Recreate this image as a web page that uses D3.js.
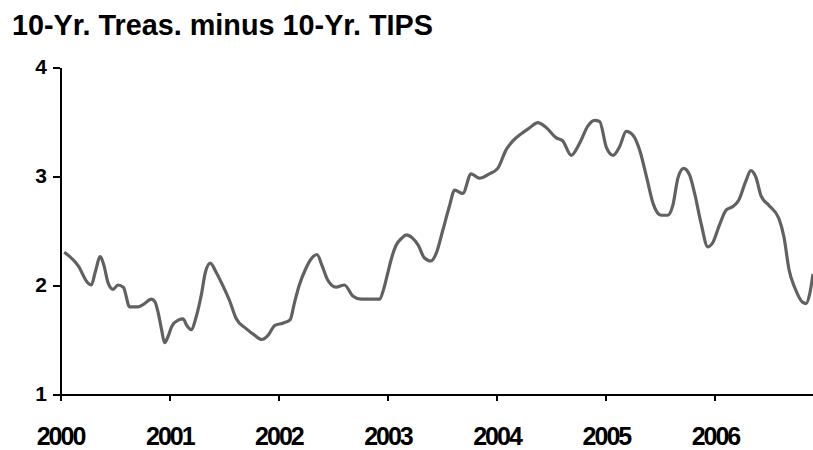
<!DOCTYPE html>
<html>
<head>
<meta charset="utf-8">
<script src="https://cdn.jsdelivr.net/npm/d3@7"></script>
<style>
  body { margin: 0; background: #fff; }
  svg { display: block; }
  .axis path, .axis line { stroke: #000; stroke-width: 2px; shape-rendering: crispEdges; }
  .axis text { font-family: "Liberation Sans", Arial, sans-serif; font-weight: bold; fill: #000; }
</style>
</head>
<body>
<script>
"use strict";

// data
var title = "10-Yr. Treas. minus 10-Yr. TIPS";
var yearTicks = ["2000", "2001", "2002", "2003", "2004", "2005", "2006"];
var valueTicks = [1, 2, 3, 4];
var dates = [
    "2000-01-15", "2000-02-03", "2000-03-01", "2000-04-03", "2000-04-15", "2000-04-28",
    "2000-05-15", "2000-05-27", "2000-06-10", "2000-06-27", "2000-07-13", "2000-07-31",
    "2000-08-21", "2000-09-18", "2000-10-05", "2000-11-02", "2000-11-13", "2000-11-25",
    "2000-12-06", "2000-12-16", "2000-12-28", "2001-01-09", "2001-02-01", "2001-02-16",
    "2001-02-28", "2001-03-15", "2001-04-01", "2001-04-18", "2001-05-01", "2001-05-18",
    "2001-06-06", "2001-06-28", "2001-07-21", "2001-08-13", "2001-09-15", "2001-10-13",
    "2001-11-06", "2001-11-28", "2001-12-20", "2002-01-16", "2002-02-09", "2002-02-24",
    "2002-03-12", "2002-04-01", "2002-04-21", "2002-05-10", "2002-05-28", "2002-06-14",
    "2002-07-13", "2002-08-10", "2002-09-07", "2002-10-05", "2002-12-06", "2002-12-19",
    "2003-01-02", "2003-01-12", "2003-01-29", "2003-02-18", "2003-03-05", "2003-03-26",
    "2003-04-15", "2003-05-04", "2003-05-27", "2003-06-13", "2003-07-05", "2003-07-27",
    "2003-08-14", "2003-09-10", "2003-10-08", "2003-11-05", "2003-12-08", "2004-01-05",
    "2004-02-02", "2004-02-24", "2004-03-25", "2004-04-20", "2004-05-18", "2004-06-13",
    "2004-07-19", "2004-08-10", "2004-09-07", "2004-10-05", "2004-11-02", "2004-11-24",
    "2004-12-11", "2005-01-03", "2005-01-25", "2005-02-16", "2005-03-10", "2005-04-03",
    "2005-04-25", "2005-05-18", "2005-06-09", "2005-07-05", "2005-07-27", "2005-08-13",
    "2005-08-30", "2005-09-18", "2005-10-08", "2005-10-25", "2005-11-16", "2005-12-08",
    "2005-12-25", "2006-01-16", "2006-02-08", "2006-03-02", "2006-03-22", "2006-04-14",
    "2006-05-01", "2006-05-18", "2006-06-04", "2006-07-01", "2006-08-03", "2006-08-20",
    "2006-09-06", "2006-09-26", "2006-10-22", "2006-11-02", "2006-11-15", "2006-11-25"
];
var values = [
    2.30, 2.26, 2.18, 2.02, 2.00, 2.12,
    2.26, 2.18, 2.02, 1.96, 2.00, 1.98,
    1.80, 1.80, 1.82, 1.87, 1.85, 1.74,
    1.59, 1.47, 1.53, 1.62, 1.68, 1.69,
    1.63, 1.59, 1.71, 1.91, 2.11, 2.20,
    2.12, 2.00, 1.86, 1.69, 1.60, 1.54,
    1.50, 1.54, 1.63, 1.65, 1.68, 1.84,
    2.00, 2.14, 2.24, 2.28, 2.17, 2.05,
    1.98, 2.00, 1.90, 1.87, 1.87, 1.96,
    2.11, 2.22, 2.36, 2.43, 2.46, 2.43,
    2.36, 2.25, 2.22, 2.29, 2.50, 2.72,
    2.87, 2.84, 3.02, 2.98, 3.02, 3.07,
    3.24, 3.32, 3.39, 3.44, 3.49, 3.45,
    3.35, 3.32, 3.19, 3.30, 3.46, 3.51,
    3.50, 3.26, 3.19, 3.27, 3.41, 3.37,
    3.23, 2.98, 2.74, 2.64, 2.64, 2.73,
    2.98, 3.07, 3.01, 2.84, 2.56, 2.35,
    2.39, 2.55, 2.69, 2.72, 2.78, 2.95,
    3.05, 2.99, 2.82, 2.73, 2.61, 2.44,
    2.14, 1.97, 1.84, 1.83, 1.93, 2.10
];

var width = 813, height = 450;
var parseDate = d3.timeParse("%Y-%m-%d");
var parseYear = d3.timeParse("%Y");

var series = dates.map(function(d, i) {
    return { date: parseDate(d), value: values[i] };
});

var svg = d3.select("body").append("svg")
    .attr("width", width)
    .attr("height", height);

svg.append("rect")
    .attr("width", width)
    .attr("height", height)
    .attr("fill", "#fff");

// x: one year is ~109px, 2007 falls just past the right edge
var x = d3.scaleTime()
    .domain([parseYear("2000"), parseYear("2007")])
    .range([60, 824]);
var y = d3.scaleLinear()
    .domain([1, 4])
    .range([394, 67]);

var xAxis = d3.axisBottom(x)
    .tickValues(yearTicks.map(parseYear))
    .tickFormat(d3.timeFormat("%Y"))
    .tickSize(7)
    .tickSizeOuter(0)
    .tickPadding(26);

var yAxis = d3.axisLeft(y)
    .tickValues(valueTicks)
    .tickFormat(d3.format("d"))
    .tickSize(7)
    .tickSizeOuter(0)
    .tickPadding(6);

var gx = svg.append("g")
    .attr("class", "axis x")
    .attr("transform", "translate(0," + y(1) + ")")
    .call(xAxis);
gx.selectAll("text")
    .style("font-size", "25px")
    .attr("letter-spacing", "-2");

var gy = svg.append("g")
    .attr("class", "axis y")
    .attr("transform", "translate(" + x(parseYear("2000")) + ",0)")
    .call(yAxis);
gy.selectAll("text")
    .style("font-size", "21px");

var line = d3.line()
    .x(function(d) { return x(d.date); })
    .y(function(d) { return y(d.value); })
    .curve(d3.curveMonotoneX);

svg.append("path")
    .datum(series)
    .attr("fill", "none")
    .attr("stroke", "#616161")
    .attr("stroke-width", 3.2)
    .attr("stroke-linejoin", "round")
    .attr("d", line);

// title
svg.append("text")
    .attr("x", 12)
    .attr("y", 35)
    .attr("font-family", "Liberation Sans, Arial, sans-serif")
    .attr("font-weight", "bold")
    .attr("font-size", "28.8px")
    .attr("fill", "#000")
    .text(title);
</script>
</body>
</html>
